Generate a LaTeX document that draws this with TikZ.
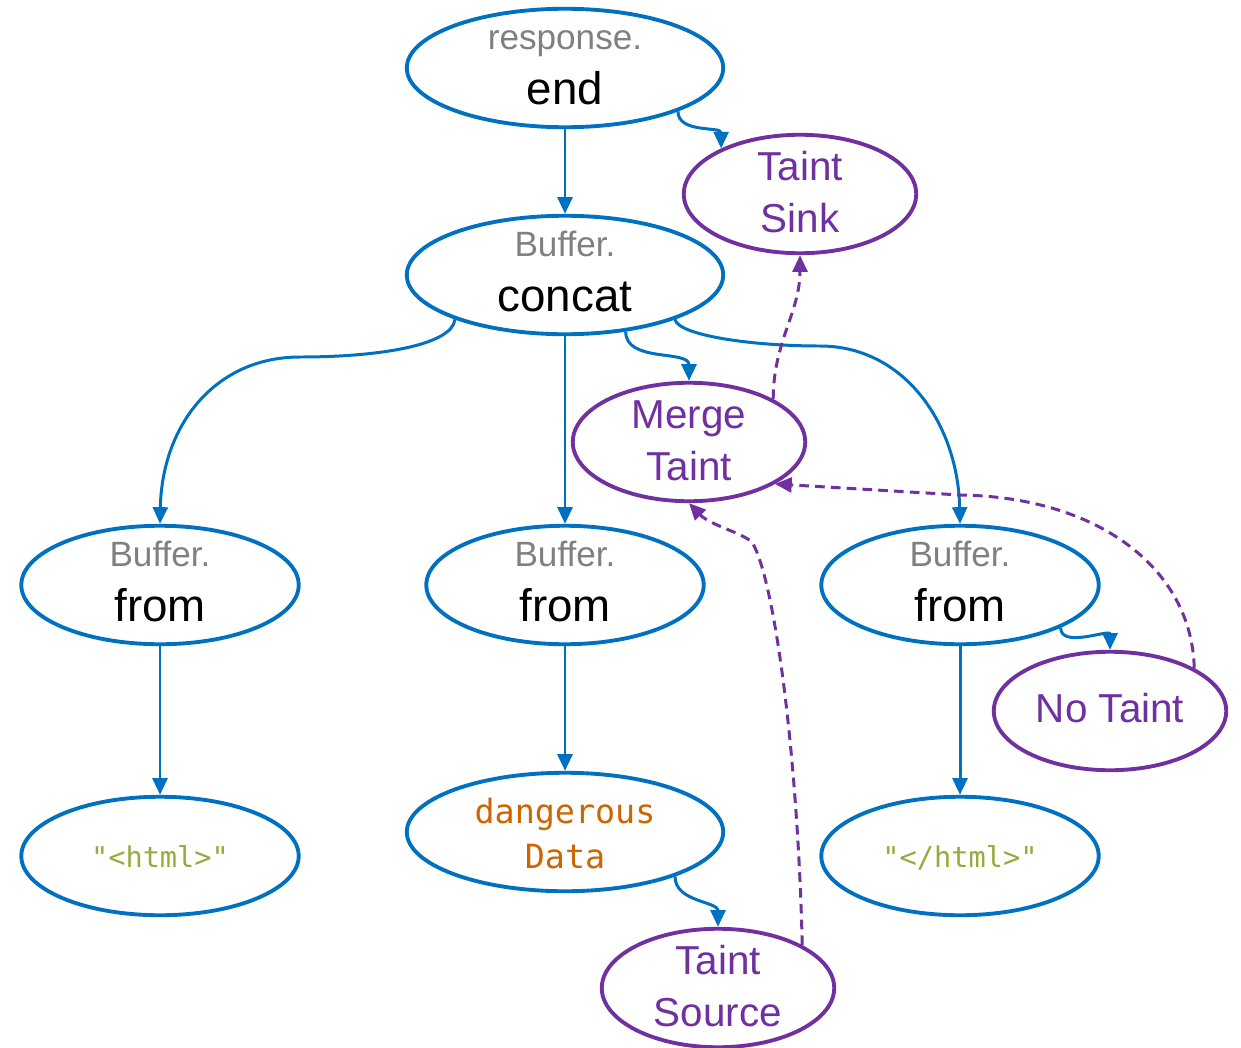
\documentclass[tikz,border=0pt]{standalone}
\usepackage{fontspec}
\setmainfont{Liberation Sans}
\newfontfamily\codefont{DejaVu Sans Mono}
\usetikzlibrary{shapes.geometric,arrows.meta}

\definecolor{callblue}{HTML}{0070C0}
\definecolor{taintpurple}{HTML}{7030A0}
\definecolor{objgray}{HTML}{808080}
\definecolor{varorange}{HTML}{CC6600}
\definecolor{strgreen}{HTML}{9BA83C}

% one line of text, baseline at a fixed height over the node centre
\newcommand{\lineat}[2]{\makebox[0pt]{\raisebox{#1}[0pt][0pt]{#2}}}
\newcommand{\callname}[2]{\lineat{10.5pt}{\color{objgray}\fontsize{20}{24}\selectfont #1}\lineat{-21pt}{\fontsize{26}{30}\selectfont #2}}
\newcommand{\taintname}[2]{\lineat{7.7pt}{\fontsize{23}{28}\selectfont #1}\lineat{-21.8pt}{\fontsize{23}{28}\selectfont #2}}

\begin{document}
\begin{tikzpicture}[x = 0.02cm, y = -0.02cm,
    callnode/.style = {ellipse, draw = callblue, line width = 2.2pt, inner sep = 0pt,
      minimum width = 6.33cm, minimum height = 2.37cm},
    fromnode/.style = {callnode, minimum width = 5.55cm},
    taintnode/.style = {ellipse, draw = taintpurple, line width = 2.2pt, inner sep = 0pt,
      text = taintpurple, minimum width = 4.65cm, minimum height = 2.37cm},
    flow/.style = {draw = callblue, line width = 1.7pt, -{Triangle[length = 9.5pt, width = 8.5pt]}},
    taintflow/.style = {draw = taintpurple, line width = 1.7pt, dash pattern = on 5.5pt off 3.5pt,
      -{Triangle[length = 9.5pt, width = 8.5pt]}}]
  \useasboundingbox (0,0) rectangle (1241,1048);

  \node[callnode] (respend) at (565,68) {\callname{response.}{end}};
  \node[taintnode] (sink) at (800,194) {\taintname{Taint}{Sink}};
  \node[callnode] (concat) at (565,275) {\callname{Buffer.}{concat}};
  \node[taintnode] (merge) at (689,442) {\taintname{Merge}{Taint}};
  \node[fromnode] (fromA) at (160,585) {\callname{Buffer.}{from}};
  \node[fromnode] (fromB) at (565,585) {\callname{Buffer.}{from}};
  \node[fromnode] (fromC) at (960,585) {\callname{Buffer.}{from}};
  \node[taintnode] (notaint) at (1110,711) {\lineat{-6.3pt}{\fontsize{23}{28}\selectfont No Taint}};
  \node[fromnode] (html) at (160,856) {\lineat{-6.3pt}{\color{strgreen}\codefont\fontsize{16.3}{20}\selectfont "<html>"}};
  \node[callnode] (data) at (565,832) {\lineat{5.1pt}{\color{varorange}\codefont\fontsize{19}{23}\selectfont dangerous}\lineat{-20.5pt}{\color{varorange}\codefont\fontsize{19}{23}\selectfont Data}};
  \node[fromnode] (closehtml) at (960,856) {\lineat{-6.3pt}{\color{strgreen}\codefont\fontsize{16.3}{20}\selectfont "</html>"}};
  \node[taintnode] (source) at (718,988) {\taintname{Taint}{Source}};

  % calls
  \draw[flow] (respend) -- (concat);
  \draw[flow] (respend.-21) to[out=-90, in=90] (sink.150);
  \draw[flow] (concat.202) .. controls (452,345) and (380,357) .. (300,357)
    .. controls (215,357) and (162,425) .. (fromA.north);
  \draw[flow] (concat) -- (fromB);
  \draw[flow] (concat.-43) to[out=-90, in=90] (merge.north);
  \draw[flow] (concat.-22) .. controls (678,335) and (750,346) .. (820,346)
    .. controls (905,346) and (958,425) .. (fromC.north);
  \draw[flow] (fromA) -- (html);
  \draw[flow] (fromB) -- (data);
  \draw[flow] (fromC) -- (closehtml);
  \draw[flow] (fromC.-23) to[out=-90, in=90] (notaint.north);
  \draw[flow] (data.-22) to[out=-90, in=90] (source.north);

  % taint
  \draw[taintflow] (merge.27) to[out=90, in=-90] (sink.south);
  \draw[taintflow] (notaint.27) .. controls (1192,570) and (1100,497) .. (960,495) -- (merge.-26);
  \draw[taintflow] (source.27) .. controls (798,760) and (775,580) .. (752,542)
    .. controls (740,532) and (710,525) .. (merge.south);
\end{tikzpicture}
\end{document}
